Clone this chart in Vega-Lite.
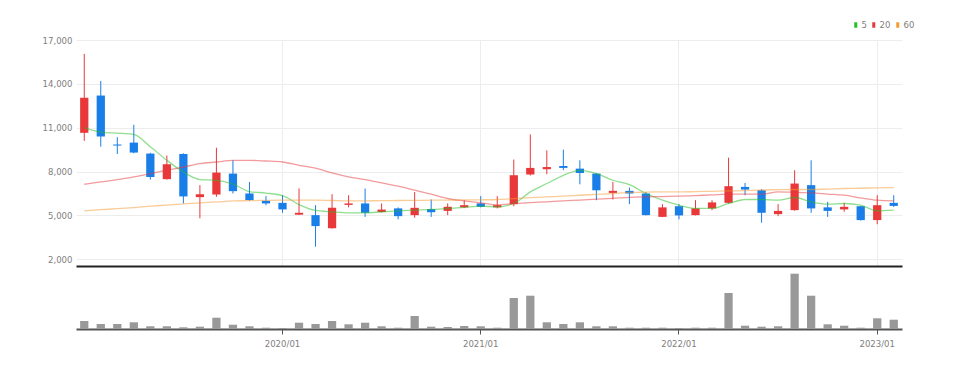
{
  "$schema": "https://vega.github.io/schema/vega-lite/v6.json",
  "background": "white",
  "padding": {"top": 20, "left": 42, "right": 0, "bottom": 0},
  "config": {"view": {"stroke": null}, "font": "DejaVu Sans Condensed"},
  "data": {"values": [
    {"d": "2019/01", "o": 10650, "h": 16050, "l": 10100, "c": 13050, "v": 800000, "5": 11000, "20": 7133, "60": 5313},
    {"d": "2019/02", "o": 13200, "h": 14200, "l": 9700, "c": 10400, "v": 500000, "5": 10700, "20": 7290, "60": 5390},
    {"d": "2019/03", "o": 9850, "h": 10350, "l": 9200, "c": 9780, "v": 500000, "5": 10630, "20": 7453, "60": 5460},
    {"d": "2019/04", "o": 9980, "h": 11200, "l": 9250, "c": 9300, "v": 670000, "5": 10540, "20": 7631, "60": 5540},
    {"d": "2019/05", "o": 9230, "h": 9280, "l": 7450, "c": 7630, "v": 270000, "5": 9700, "20": 7862, "60": 5633},
    {"d": "2019/06", "o": 7480, "h": 9100, "l": 7450, "c": 8500, "v": 270000, "5": 8770, "20": 8087, "60": 5710},
    {"d": "2019/07", "o": 9200, "h": 9250, "l": 5820, "c": 6300, "v": 170000, "5": 7970, "20": 8312, "60": 5790},
    {"d": "2019/08", "o": 6250, "h": 7070, "l": 4800, "c": 6450, "v": 230000, "5": 7450, "20": 8544, "60": 5858},
    {"d": "2019/09", "o": 6430, "h": 9630, "l": 6270, "c": 7930, "v": 1130000, "5": 7400, "20": 8653, "60": 5920},
    {"d": "2019/10", "o": 7860, "h": 8770, "l": 6500, "c": 6660, "v": 430000, "5": 7150, "20": 8769, "60": 5994},
    {"d": "2019/11", "o": 6500, "h": 7290, "l": 6000, "c": 6050, "v": 270000, "5": 6630, "20": 8769, "60": 6010},
    {"d": "2019/12", "o": 6000, "h": 6320, "l": 5700, "c": 5820, "v": 130000, "5": 6530, "20": 8722, "60": 6030},
    {"d": "2020/01", "o": 5860, "h": 6380, "l": 5180, "c": 5410, "v": 100000, "5": 6360, "20": 8653, "60": 6042},
    {"d": "2020/02", "o": 5050, "h": 6850, "l": 5030, "c": 5180, "v": 630000, "5": 5740, "20": 8428, "60": 6042},
    {"d": "2020/03", "o": 5020, "h": 5700, "l": 2860, "c": 4270, "v": 500000, "5": 5340, "20": 8240, "60": 6042},
    {"d": "2020/04", "o": 4130, "h": 6450, "l": 4100, "c": 5520, "v": 800000, "5": 5245, "20": 7903, "60": 6020},
    {"d": "2020/05", "o": 5720, "h": 6380, "l": 5550, "c": 5820, "v": 470000, "5": 5177, "20": 7631, "60": 5994},
    {"d": "2020/06", "o": 5820, "h": 6840, "l": 4900, "c": 5180, "v": 630000, "5": 5177, "20": 7453, "60": 6000},
    {"d": "2020/07", "o": 5230, "h": 5820, "l": 5200, "c": 5400, "v": 270000, "5": 5245, "20": 7222, "60": 6010},
    {"d": "2020/08", "o": 5480, "h": 5550, "l": 4730, "c": 4950, "v": 130000, "5": 5313, "20": 6997, "60": 6020},
    {"d": "2020/09", "o": 5020, "h": 6600, "l": 4840, "c": 5520, "v": 1300000, "5": 5361, "20": 6724, "60": 6030},
    {"d": "2020/10", "o": 5430, "h": 6090, "l": 4900, "c": 5220, "v": 230000, "5": 5408, "20": 6451, "60": 6040},
    {"d": "2020/11", "o": 5310, "h": 5820, "l": 5020, "c": 5590, "v": 200000, "5": 5477, "20": 6158, "60": 6050},
    {"d": "2020/12", "o": 5550, "h": 6040, "l": 5500, "c": 5700, "v": 300000, "5": 5545, "20": 5994, "60": 6060},
    {"d": "2021/01", "o": 5820, "h": 6320, "l": 5550, "c": 5590, "v": 270000, "5": 5633, "20": 5858, "60": 6070},
    {"d": "2021/02", "o": 5550, "h": 6320, "l": 5480, "c": 5700, "v": 130000, "5": 5590, "20": 5720, "60": 6090},
    {"d": "2021/03", "o": 5770, "h": 8820, "l": 5630, "c": 7750, "v": 3100000, "5": 5817, "20": 5800, "60": 6150},
    {"d": "2021/04", "o": 7800, "h": 10540, "l": 7730, "c": 8250, "v": 3330000, "5": 6608, "20": 5870, "60": 6220},
    {"d": "2021/05", "o": 8160, "h": 9450, "l": 7820, "c": 8310, "v": 670000, "5": 7181, "20": 5930, "60": 6270},
    {"d": "2021/06", "o": 8380, "h": 9500, "l": 8090, "c": 8250, "v": 500000, "5": 7746, "20": 5994, "60": 6315},
    {"d": "2021/07", "o": 8200, "h": 8770, "l": 7130, "c": 7900, "v": 670000, "5": 8087, "20": 6050, "60": 6380},
    {"d": "2021/08", "o": 7860, "h": 7900, "l": 6040, "c": 6720, "v": 270000, "5": 7862, "20": 6110, "60": 6440},
    {"d": "2021/09", "o": 6540, "h": 7290, "l": 6090, "c": 6680, "v": 270000, "5": 7406, "20": 6170, "60": 6500},
    {"d": "2021/10", "o": 6680, "h": 6910, "l": 5770, "c": 6500, "v": 130000, "5": 7100, "20": 6240, "60": 6570},
    {"d": "2021/11", "o": 6500, "h": 6600, "l": 5000, "c": 5020, "v": 130000, "5": 6499, "20": 6270, "60": 6600},
    {"d": "2021/12", "o": 4900, "h": 5770, "l": 4880, "c": 5550, "v": 130000, "5": 6042, "20": 6290, "60": 6608},
    {"d": "2022/01", "o": 5630, "h": 5770, "l": 4730, "c": 5000, "v": 100000, "5": 5701, "20": 6315, "60": 6608},
    {"d": "2022/02", "o": 5020, "h": 6040, "l": 5000, "c": 5480, "v": 130000, "5": 5477, "20": 6360, "60": 6630},
    {"d": "2022/03", "o": 5480, "h": 6040, "l": 5360, "c": 5890, "v": 130000, "5": 5477, "20": 6400, "60": 6650},
    {"d": "2022/04", "o": 5860, "h": 8950, "l": 5800, "c": 7000, "v": 3600000, "5": 5817, "20": 6451, "60": 6676},
    {"d": "2022/05", "o": 6950, "h": 7220, "l": 6380, "c": 6770, "v": 330000, "5": 6090, "20": 6451, "60": 6700},
    {"d": "2022/06", "o": 6720, "h": 6800, "l": 4500, "c": 5180, "v": 230000, "5": 6090, "20": 6451, "60": 6740},
    {"d": "2022/07", "o": 5090, "h": 5770, "l": 4950, "c": 5310, "v": 270000, "5": 6040, "20": 6608, "60": 6760},
    {"d": "2022/08", "o": 5360, "h": 8090, "l": 5330, "c": 7180, "v": 5530000, "5": 6226, "20": 6580, "60": 6772},
    {"d": "2022/09", "o": 7070, "h": 8770, "l": 5180, "c": 5480, "v": 3330000, "5": 5927, "20": 6540, "60": 6772},
    {"d": "2022/10", "o": 5550, "h": 5930, "l": 4900, "c": 5310, "v": 470000, "5": 5770, "20": 6460, "60": 6800},
    {"d": "2022/11", "o": 5410, "h": 5860, "l": 5250, "c": 5590, "v": 330000, "5": 5817, "20": 6383, "60": 6840},
    {"d": "2022/12", "o": 5630, "h": 5650, "l": 4650, "c": 4680, "v": 130000, "5": 5701, "20": 6200, "60": 6860},
    {"d": "2023/01", "o": 4680, "h": 6380, "l": 4400, "c": 5700, "v": 1070000, "5": 5313, "20": 6042, "60": 6890},
    {"d": "2023/02", "o": 5860, "h": 6380, "l": 5580, "c": 5650, "v": 930000, "5": 5361, "20": 5994, "60": 6908}
  ]},
  "spacing": 0,
  "resolve": {"scale": {"color": "independent"}, "legend": {"color": "independent"}},
  "vconcat": [
    {
      "width": 826,
      "height": 226,
      "encoding": {
        "x": {
          "field": "d", "type": "ordinal", "sort": null,
          "scale": {"paddingInner": 0, "paddingOuter": 0},
          "axis": {"values": ["2020/01", "2021/01", "2022/01", "2023/01"], "labels": false, "ticks": false, "title": null, "domainColor": "#222222", "domainWidth": 2, "grid": true, "gridColor": "#ededed", "gridWidth": 1}
        }
      },
      "layer": [
        {
          "mark": {"type": "rule", "strokeWidth": 1},
          "encoding": {
            "y": {"field": "l", "type": "quantitative", "scale": {"domain": [1540, 17000], "nice": false, "zero": false},
              "axis": {"values": [2000, 5000, 8000, 11000, 14000, 17000], "format": ",d", "title": null, "domain": false, "ticks": false, "labelPadding": 4, "labelColor": "#808080", "labelFontSize": 9.5, "labelFont": "DejaVu Sans Condensed", "gridColor": "#ededed", "gridWidth": 1}},
            "y2": {"field": "h"},
            "color": {"condition": {"test": "datum.c >= datum.o", "value": "#e8383a"}, "value": "#1a7ee8"}
          }
        },
        {
          "mark": {"type": "bar", "width": {"band": 0.5}},
          "encoding": {
            "y": {"field": "o", "type": "quantitative"},
            "y2": {"field": "c"},
            "color": {"condition": {"test": "datum.c >= datum.o", "value": "#e8383a"}, "value": "#1a7ee8"}
          }
        },
        {
          "transform": [{"fold": ["5", "20", "60"], "as": ["ma", "val"]}],
          "mark": {"type": "line", "interpolate": "monotone", "strokeWidth": 1.3, "opacity": 0.5},
          "encoding": {
            "y": {"field": "val", "type": "quantitative"},
            "color": {"field": "ma", "type": "nominal",
              "scale": {"domain": ["5", "20", "60"], "range": ["#22c022", "#e8383a", "#f59a30"]},
              "legend": {"orient": "none", "legendX": 775, "legendY": -20, "direction": "horizontal", "title": null,
                "symbolType": "M0,-1L0,1", "symbolSize": 30, "symbolStrokeWidth": 3, "symbolOpacity": 1,
                "labelFontSize": 9.5, "labelColor": "#808080", "labelFont": "DejaVu Sans Condensed", "labelOffset": 1, "columnPadding": 0}}
          }
        }
      ]
    },
    {
      "width": 826,
      "height": 63,
      "mark": {"type": "bar", "width": {"band": 0.5}, "color": "#999999"},
      "encoding": {
        "x": {
          "field": "d", "type": "ordinal", "sort": null,
          "scale": {"paddingInner": 0, "paddingOuter": 0},
          "axis": {"values": ["2020/01", "2021/01", "2022/01", "2023/01"], "title": null, "labelAngle": 0, "domainColor": "#555555", "domainWidth": 2, "tickColor": "#555555", "tickSize": 5, "labelPadding": 4, "labelColor": "#808080", "labelFontSize": 9.5, "labelFont": "DejaVu Sans Condensed", "grid": false}
        },
        "y": {"field": "v", "type": "quantitative", "scale": {"domain": [0, 6300000]}, "axis": null}
      }
    }
  ]
}
